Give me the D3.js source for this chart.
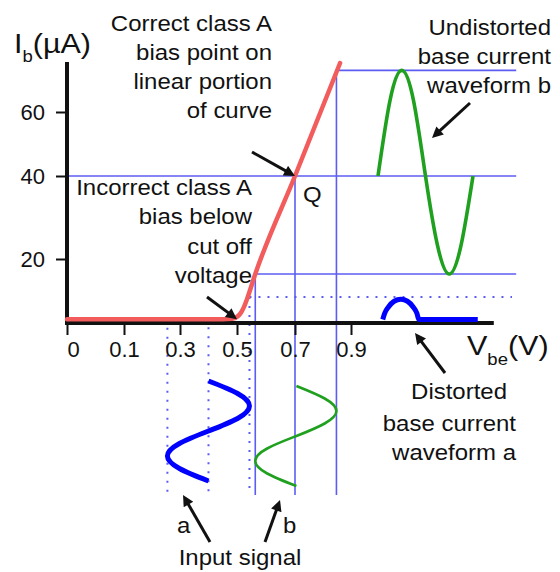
<!DOCTYPE html>
<html>
<head>
<meta charset="utf-8">
<script src="https://cdn.jsdelivr.net/npm/d3@7"></script>
<style>
  body { margin: 0; background: #fff; }
  text { font-family: "Liberation Sans", Arial, sans-serif; fill: #111; }
</style>
</head>
<body>
<div id="chart"></div>
<script>
// ---- data ----
// axis ticks (the original skips 0.2 and 0.4 on the V axis)
const vTicks = [0, 0.1, 0.3, 0.5, 0.7, 0.9];
const ibTicks = [20, 40, 60];

// input characteristic Ib(Vbe), red curve
const curveV  = [0, 0.45, 0.483, 0.5, 0.512, 0.523, 0.535, 0.563, 0.7, 0.861];
const curveIb = [1.2, 1.2, 1.35, 1.9, 3.0, 4.8, 7.6, 15.3, 40, 75.3];

// one period of signal, sampled every 1/8
const phase = [0, 0.125, 0.25, 0.375, 0.5, 0.625, 0.75, 0.875, 1];

// input signals (Vbe against time), a = bad bias, b = correct bias
const inAV = [0.4, 0.502, 0.543, 0.502, 0.4, 0.298, 0.255, 0.298, 0.4];
const inBV = [0.705, 0.806, 0.848, 0.806, 0.705, 0.604, 0.563, 0.604, 0.705];
const biasA = 0.4;
const biasB = 0.7;

// output base currents (Ib against time)
const outBIb = [40, 63.4, 73, 63.4, 40, 23.4, 15.3, 23.4, 40];
const outATime = [0, 0.02, 0.06, 0.12, 0.19, 0.26, 0.32, 0.36, 0.38, 1];
const outAIb = [1.1, 3, 5, 6.8, 7.4, 6.8, 5, 3, 1.1, 1.1];
const peakA = 8.1;   // dotted level through the top of waveform a

// ---- set up ----
const width = 560, height = 572;
const red = '#f25c5c', guide = '#5c5cf2', green = '#1fa01f', blue = '#0000ff';

const svg = d3.select('#chart').append('svg')
  .attr('width', width).attr('height', height);

// piecewise scales, the drawing is not linear between ticks
const x = d3.scaleLinear().domain(vTicks).range([67, 124, 180, 237, 295, 351]);
const y = d3.scaleLinear().domain([0, 20, 40, 60]).range([323, 259, 176, 112]);
const inT = d3.scaleLinear().domain([0, 1]).range([381, 481]);   // time runs down for inputs
const outT = d3.scaleLinear().domain([0, 1]).range([378, 473]);  // time runs right for outputs

const vEnd = 1.49, vAxisEnd = 1.41, ibAxisTop = 75.6, tBottom = 1.14;

// ---- guide lines ----
const g = svg.append('g');
const vMinB = d3.min(inBV), vMaxB = d3.max(inBV);
const hLines = [[73, vMaxB], [40, 0], [15.3, vMinB]];
hLines.forEach(([ib, v0]) => {
  g.append('line').attr('x1', x(v0)).attr('x2', x(vEnd))
    .attr('y1', y(ib)).attr('y2', y(ib))
    .attr('stroke', guide).attr('stroke-width', 1.6);
});
[[vMinB, 15.3], [biasB, 40], [vMaxB, 73]].forEach(([v, ib]) => {
  g.append('line').attr('x1', x(v)).attr('x2', x(v))
    .attr('y1', y(ib)).attr('y2', inT(tBottom))
    .attr('stroke', guide).attr('stroke-width', 1.6);
});
// dotted guides for the badly biased signal
const vMinA = d3.min(inAV), vMaxA = d3.max(inAV);
[[vMinA, -1.5], [biasA, 1.5], [vMaxA, peakA]].forEach(([v, ib]) => {
  g.append('line').attr('x1', x(v)).attr('x2', x(v))
    .attr('y1', y(ib)).attr('y2', inT(tBottom))
    .attr('stroke', guide).attr('stroke-width', 2)
    .attr('stroke-dasharray', '2,7');
});
g.append('line').attr('x1', x(vMaxA)).attr('x2', x(1.475))
  .attr('y1', y(peakA)).attr('y2', y(peakA))
  .attr('stroke', guide).attr('stroke-width', 2)
  .attr('stroke-dasharray', '2,7');

// ---- axes ----
const xAxis = svg.append('g')
  .attr('transform', `translate(0, ${y(0)})`)
  .call(d3.axisBottom(x).tickValues(vTicks).tickSize(12).tickPadding(6)
    .tickFormat(d => String(d)));
xAxis.select('.domain').remove();
xAxis.selectAll('line').attr('stroke', '#111').attr('stroke-width', 2);
xAxis.selectAll('text').attr('font-size', 22).attr('font-family', null)
  .attr('dx', (d, i) => i === 0 ? 6 : 0);

const yAxis = svg.append('g')
  .attr('transform', `translate(${x(0)}, 0)`)
  .call(d3.axisLeft(y).tickValues(ibTicks).tickSize(11).tickPadding(11));
yAxis.select('.domain').remove();
yAxis.selectAll('line').attr('stroke', '#111').attr('stroke-width', 2);
yAxis.selectAll('text').attr('font-size', 22).attr('font-family', null);

svg.append('line').attr('x1', x(0)).attr('x2', x(vAxisEnd))
  .attr('y1', y(0)).attr('y2', y(0)).attr('stroke', '#111').attr('stroke-width', 4);
svg.append('line').attr('x1', x(0)).attr('x2', x(0))
  .attr('y1', y(0) + 2).attr('y2', y(ibAxisTop)).attr('stroke', '#111').attr('stroke-width', 4);

// ---- curves ----
const curveLine = d3.line().x(d => x(d[0])).y(d => y(d[1])).curve(d3.curveMonotoneX);
svg.append('path').datum(d3.zip(curveV, curveIb))
  .attr('d', curveLine).attr('fill', 'none')
  .attr('stroke', red).attr('stroke-width', 4.5).attr('stroke-linecap', 'round');

// input signals: V across, time down
const inLine = d3.line().x(d => x(d[0])).y(d => inT(d[1])).curve(d3.curveNatural);
svg.append('path').datum(d3.zip(inAV, phase))
  .attr('d', inLine).attr('fill', 'none').attr('stroke', blue).attr('stroke-width', 5);
svg.append('path').datum(d3.zip(inBV, phase.map(p => p + 0.05)))
  .attr('d', inLine).attr('fill', 'none').attr('stroke', green).attr('stroke-width', 2.6);

// output currents: time across, Ib up
const outLine = d3.line().x(d => outT(d[0])).y(d => y(d[1]));
svg.append('path').datum(d3.zip(phase, outBIb))
  .attr('d', outLine.curve(d3.curveNatural)).attr('fill', 'none')
  .attr('stroke', green).attr('stroke-width', 3.6);
svg.append('path').datum(d3.zip(outATime.map(t => t + 0.05), outAIb))
  .attr('d', outLine.curve(d3.curveMonotoneX)).attr('fill', 'none')
  .attr('stroke', blue).attr('stroke-width', 5);

// ---- text ----
const labels = [
  ['Correct class A', 272, 31, 'end'],
  ['bias point on', 272, 60, 'end'],
  ['linear portion', 272, 89, 'end'],
  ['of curve', 272, 118, 'end'],
  ['Incorrect class A', 252, 195, 'end'],
  ['bias below', 252, 224, 'end'],
  ['cut off', 252, 254, 'end'],
  ['voltage', 252, 283, 'end'],
  ['Undistorted', 551, 35, 'end'],
  ['base current', 551, 64, 'end'],
  ['waveform b', 551, 93, 'end'],
  ['Distorted', 507, 399, 'end'],
  ['base current', 516, 431, 'end'],
  ['waveform a', 516, 460, 'end'],
  ['Q', 303, 202, 'start'],
  ['a', 177, 533, 'start'],
  ['b', 283, 533, 'start'],
  ['Input signal', 240, 565, 'middle']
];
svg.append('g').selectAll('text').data(labels).join('text')
  .attr('transform', d => `translate(${d[1]}, ${d[2]}) scale(1.09, 1)`)
  .attr('text-anchor', d => d[3])
  .attr('font-size', 22)
  .text(d => d[0]);

// axis titles with subscripts
const ibTitle = svg.append('text')
  .attr('transform', 'translate(14, 53) scale(1.09, 1)').attr('font-size', 28);
ibTitle.append('tspan').text('I');
ibTitle.append('tspan').attr('font-size', 17).attr('dy', 9).text('b');
ibTitle.append('tspan').attr('dy', -9).text('(µA)');

const vTitle = svg.append('text')
  .attr('transform', 'translate(467, 355) scale(1.09, 1)').attr('font-size', 28);
vTitle.append('tspan').text('V');
vTitle.append('tspan').attr('font-size', 17).attr('dy', 10).text('be');
vTitle.append('tspan').attr('dy', -10).text('(V)');

// ---- arrows ----
svg.append('defs').append('marker')
  .attr('id', 'head').attr('viewBox', '0 0 10 10')
  .attr('refX', 10).attr('refY', 5)
  .attr('markerWidth', 14).attr('markerHeight', 11)
  .attr('markerUnits', 'userSpaceOnUse').attr('orient', 'auto')
  .append('path').attr('d', 'M0,0L10,5L0,10z').attr('fill', '#111');

const arrows = [
  [252, 152, x(biasB), y(40)],
  [207, 297, x(0.5), y(1.2)],
  [470, 103, 432, 138],
  [445, 373, 415, 333],
  [210, 542, 183, 495],
  [265, 542, 280, 500]
];
arrows.forEach(([x1, y1, x2, y2]) => {
  const len = Math.hypot(x2 - x1, y2 - y1);
  const k = (len - 6) / len;
  svg.append('line')
    .attr('x1', x1).attr('y1', y1)
    .attr('x2', x1 + (x2 - x1) * k).attr('y2', y1 + (y2 - y1) * k)
    .attr('stroke', '#111').attr('stroke-width', 3);
  svg.append('line')
    .attr('x1', x1 + (x2 - x1) * k).attr('y1', y1 + (y2 - y1) * k)
    .attr('x2', x2).attr('y2', y2)
    .attr('stroke', 'none')
    .attr('marker-end', 'url(#head)');
});
</script>
</body>
</html>
